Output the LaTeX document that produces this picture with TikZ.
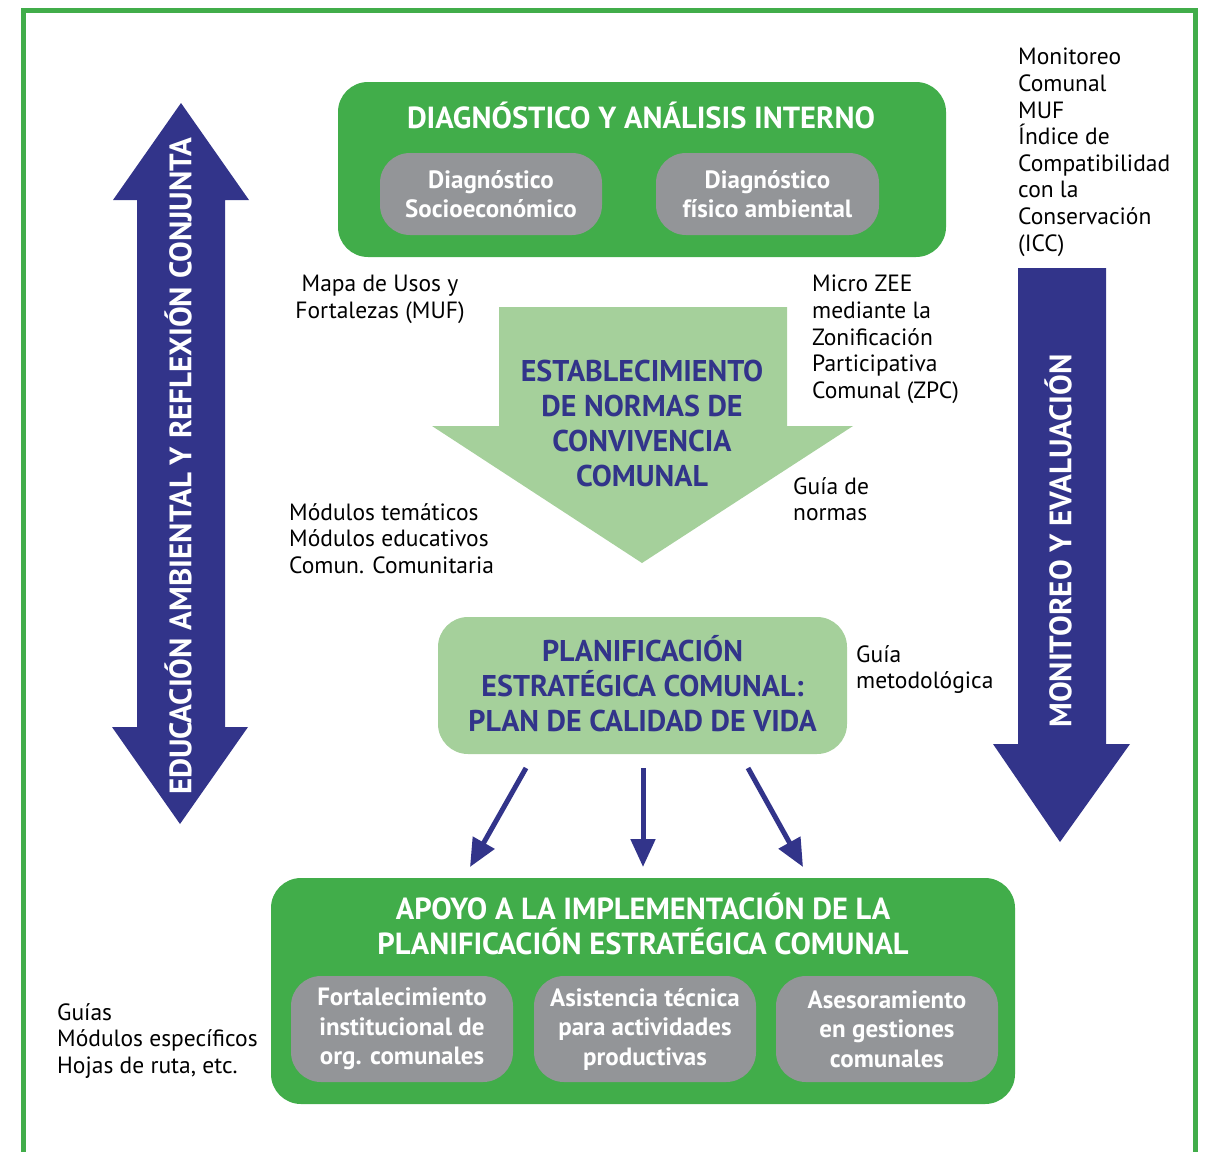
\documentclass[tikz,border=0pt]{standalone}
\usepackage{fontspec}
\setmainfont{PT Sans}
\usetikzlibrary{arrows.meta}
\definecolor{gr}{HTML}{41AD4A}
\definecolor{lg}{HTML}{A5D09B}
\definecolor{gy}{HTML}{939598}
\definecolor{nv}{HTML}{32348A}
\begin{document}
\begin{tikzpicture}[x=1pt,y=-1pt,
  lbl/.style={font=\fontsize{23.5}{26.6}\selectfont, align=left, inner sep=0, anchor=north west, text=black},
  bigbox/.style={fill=gr, rounded corners=30pt, draw=none, inner sep=0},
  lightbox/.style={fill=lg, rounded corners=30pt, draw=none, inner sep=0},
  graybox/.style={fill=gy, rounded corners=30pt, draw=none, inner sep=0, text=white, align=center, font=\bfseries\fontsize{25}{29.5}\selectfont},
  wtitle/.style={text=white, align=center, inner sep=0, font=\bfseries\fontsize{30.5}{35}\selectfont},
  ntitle/.style={text=nv, align=center, inner sep=0, font=\bfseries\fontsize{30}{35}\selectfont},
  vtext/.style={text=white, rotate=90, inner sep=0, font=\bfseries\fontsize{31}{34}\selectfont},
  blarrow/.style={draw=nv, line width=5pt, -{Triangle[length=28pt,width=24pt]}}
]
\useasboundingbox (0,0) rectangle (1207,1151);
% frame
\draw[gr, line width=5pt] (23.5,1160) -- (23.5,10.5) -- (1195.5,10.5) -- (1195.5,1160);

% left double arrow
\fill[nv] (181,103) -- (249,200) -- (225,200) -- (225,727) -- (248,727) -- (180,824) -- (112,727) -- (137,727) -- (137,200) -- (113,200) -- cycle;
\node[vtext] (edu) at (178,466) {EDUCACIÓN AMBIENTAL Y REFLEXIÓN CONJUNTA};

% right down arrow
\fill[nv] (1018,268) -- (1106,268) -- (1106,744) -- (1130,744) -- (1060,842) -- (993,744) -- (1018,744) -- cycle;
\node[vtext] (mon) at (1058,541) {MONITOREO Y EVALUACIÓN};

% top box
\node[bigbox, minimum width=608pt, minimum height=175pt] (diag) at (642,169.5) {};
\node[wtitle] (diagt) at (641,115) {DIAGNÓSTICO Y ANÁLISIS INTERNO};
\node[graybox, minimum width=222pt, minimum height=82pt] (socio) at (491,194) {\raisebox{1.5pt}{\parbox{220pt}{\centering Diagnóstico\\Socioeconómico}}};
\node[graybox, minimum width=223pt, minimum height=82pt] (fisico) at (767.5,194) {\raisebox{1.5pt}{\parbox{220pt}{\centering Diagnóstico\\físico ambiental}}};

% labels
\node[lbl, align=center, anchor=north] (muf) at (380,275) {Mapa de Usos y\\Fortalezas (MUF)};
\node[lbl] (zee) at (812,275) {Micro ZEE\\mediante la\\Zonificación\\Participativa\\Comunal (ZPC)};
\node[lbl] (icc) at (1018,48) {Monitoreo\\Comunal\\MUF\\Índice de\\Compatibilidad\\con la\\Conservación\\(ICC)};

% big light arrow
\fill[lg] (499,307) -- (787,307) -- (787,426) -- (853,426) -- (642,563) -- (432,426) -- (499,426) -- cycle;
\node[ntitle] (norms) at (642,423) {ESTABLECIMIENTO\\DE NORMAS DE\\CONVIVENCIA\\COMUNAL};

\node[lbl] (guian) at (793,477) {Guía de\\normas};
\node[lbl] (modt) at (289,503) {Módulos temáticos\\Módulos educativos\\Comun. Comunitaria};

% planificacion
\node[lightbox, minimum width=409pt, minimum height=137pt] (plan) at (642.5,685.5) {};
\node[ntitle] (plant) at (642.5,684) {PLANIFICACIÓN\\ESTRATÉGICA COMUNAL:\\PLAN DE CALIDAD DE VIDA};
\node[lbl] (guiam) at (856,645) {Guía\\metodológica};

% bottom box
\node[bigbox, minimum width=744pt, minimum height=226pt] (apoyo) at (643,991) {};
\node[wtitle] (apoyot) at (643,924) {APOYO A LA IMPLEMENTACIÓN DE LA\\PLANIFICACIÓN ESTRATÉGICA COMUNAL};
\node[graybox, minimum width=222pt, minimum height=106pt] (fort) at (402,1029) {Fortalecimiento\\institucional de\\org. comunales};
\node[graybox, minimum width=222pt, minimum height=106pt] (asis) at (645,1029) {Asistencia técnica\\para actividades\\productivas};
\node[graybox, minimum width=222pt, minimum height=106pt] (ases) at (887,1029) {Asesoramiento\\en gestiones\\comunales};

\node[lbl] (guias) at (57,1003) {Guías\\Módulos específicos\\Hojas de ruta, etc.};

% arrows from plan to apoyo
\coordinate (s1) at (526,768); \coordinate (e1) at (470,867);
\coordinate (s2) at (643,768); \coordinate (e2) at (643,867);
\coordinate (s3) at (748,768); \coordinate (e3) at (803,867);
\draw[blarrow] (s1) -- (e1);
\draw[blarrow] (s2) -- (e2);
\draw[blarrow] (s3) -- (e3);
\end{tikzpicture}
\end{document}
